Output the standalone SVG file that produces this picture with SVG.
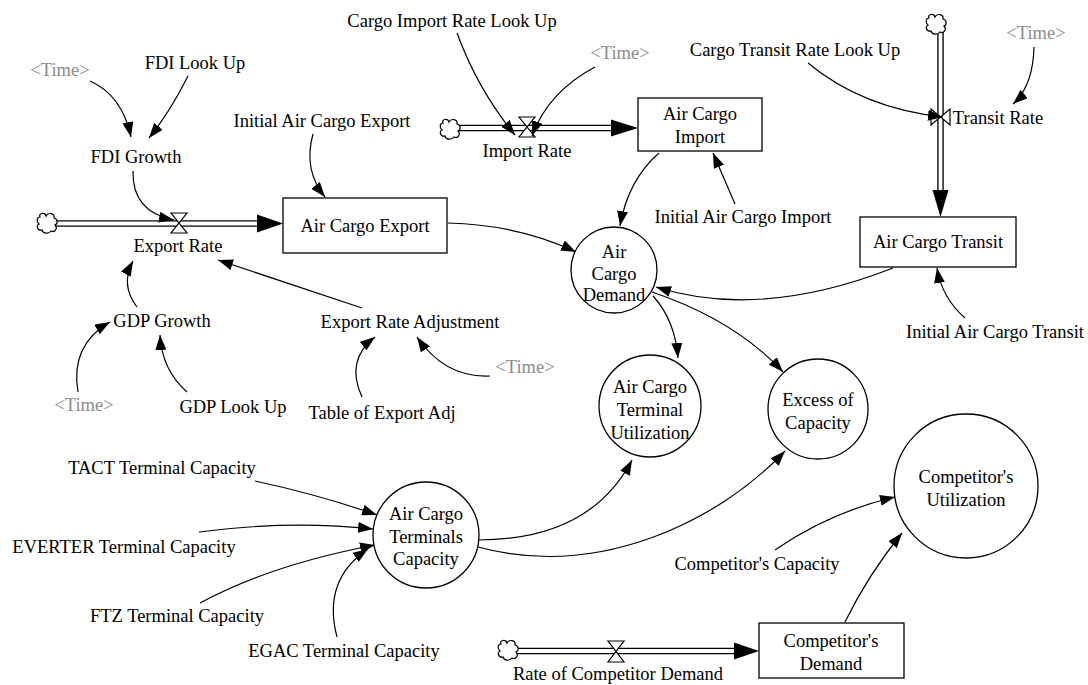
<svg xmlns="http://www.w3.org/2000/svg" width="1088" height="685" viewBox="0 0 1088 685">
<style>
.t{font-family:"Liberation Serif","Times New Roman",serif;font-size:18.5px;fill:#000;text-anchor:middle}
.g{fill:#8c8c8c}
.lk{fill:none;stroke:#000;stroke-width:1.2;marker-end:url(#ah)}
.nd{fill:#fff;stroke:#000;stroke-width:1.3}
.po{stroke:#000;stroke-width:6.5;fill:none}
.pi{stroke:#fff;stroke-width:3.8;fill:none}
.vl{fill:#fff;stroke:#000;stroke-width:1.2}
.fa{fill:#000;stroke:none}
.cl{fill:#fff;stroke:#000;stroke-width:1.2}
</style>
<defs>
<marker id="ah" markerUnits="userSpaceOnUse" markerWidth="15" markerHeight="11" refX="15" refY="5.5" orient="auto">
<path d="M0,0 L15,5.5 L0,11 Z" fill="#000"/>
</marker>
<path id="cloud" d="M-7,-6 C-9,-10 -2,-11 -1,-7 C1,-11 8,-10 7,-5 C11,-4 11,1 8,2 C11,5 8,10 4,8 C2,11 -4,11 -5,7 C-10,8 -11,2 -8,1 C-11,-2 -10,-6 -7,-6 Z"/>
</defs>

<g id="flows">
<!-- export flow -->
<line class="po" x1="55" y1="223.5" x2="260" y2="223.5"/>
<line class="pi" x1="54" y1="223.5" x2="262" y2="223.5"/>
<use href="#cloud" class="cl" x="47" y="223"/>
<polygon class="fa" points="257,214.5 283,223.5 257,232.5"/>
<path class="vl" d="M171,213 H187 L171,233 H187 Z"/>
<!-- import flow -->
<line class="po" x1="458" y1="128" x2="614" y2="128"/>
<line class="pi" x1="457" y1="128" x2="616" y2="128"/>
<use href="#cloud" class="cl" x="450" y="129"/>
<polygon class="fa" points="611,119.5 638,128 611,136.5"/>
<path class="vl" d="M519,117 H535 L519,137 H535 Z"/>
<!-- transit flow -->
<line class="po" x1="940.5" y1="31" x2="940.5" y2="192"/>
<line class="pi" x1="940.5" y1="30" x2="940.5" y2="194"/>
<use href="#cloud" class="cl" x="936" y="24"/>
<polygon class="fa" points="932.5,190 940.5,217 948.5,190"/>
<path class="vl" d="M931,109 V125 L950,109 V125 Z"/>
<!-- competitor flow -->
<line class="po" x1="516" y1="651" x2="737" y2="651"/>
<line class="pi" x1="515" y1="651" x2="739" y2="651"/>
<use href="#cloud" class="cl" x="508" y="650"/>
<polygon class="fa" points="734,642.5 759,651 734,659.5"/>
<path class="vl" d="M608,641 H624 L608,662 H624 Z"/>
</g>

<g id="connectors">
<path class="lk" d="M90,81 Q122,95 131,137"/>
<path class="lk" d="M188,76 Q170,112 149,138"/>
<path class="lk" d="M133,171 Q132,212 174,220"/>
<path class="lk" d="M313,134 Q303,170 325,197"/>
<path class="lk" d="M457,33 Q478,90 515,135"/>
<path class="lk" d="M595,67 Q548,92 532,136"/>
<path class="lk" d="M808,63 Q862,108 943,117"/>
<path class="lk" d="M1034,47 Q1033,86 1013,104"/>
<path class="lk" d="M659,153 Q628,180 620,226"/>
<path class="lk" d="M735,204 L713,153"/>
<path class="lk" d="M448,223 Q520,225 576,252"/>
<path class="lk" d="M893,268 Q760,320 656,287"/>
<path class="lk" d="M965,318 Q942,298 937,268"/>
<path class="lk" d="M652,292 Q735,320 783,372"/>
<path class="lk" d="M653,296 Q675,320 678,358"/>
<path class="lk" d="M478,540 Q590,540 632,460"/>
<path class="lk" d="M478,547 C600,580 720,520 785,451"/>
<path class="lk" d="M255,481 Q320,495 377,515"/>
<path class="lk" d="M199,532 Q290,520 373,529"/>
<path class="lk" d="M200,603 Q270,565 375,545"/>
<path class="lk" d="M337,637 Q322,580 368,549"/>
<path class="lk" d="M775,550 Q830,512 895,497"/>
<path class="lk" d="M845,622 Q868,575 902,533"/>
<path class="lk" d="M137,307 Q120,285 133,261"/>
<path class="lk" d="M78,392 Q70,345 110,322"/>
<path class="lk" d="M187,392 Q162,370 160,335"/>
<path class="lk" d="M362,308 L218,260"/>
<path class="lk" d="M362,397 Q345,360 375,337"/>
<path class="lk" d="M490,376 Q445,378 417,337"/>
</g>

<g id="air-cargo-export"><rect class="nd" x="283" y="198" width="164" height="55"/><text class="t" x="365" y="232">Air Cargo Export</text></g>
<g id="air-cargo-import"><rect class="nd" x="638" y="98" width="124" height="53"/><text class="t" x="700" y="120">Air Cargo</text><text class="t" x="700" y="143">Import</text></g>
<g id="air-cargo-transit"><rect class="nd" x="860" y="217" width="156" height="50"/><text class="t" x="938" y="248">Air Cargo Transit</text></g>
<g id="competitors-demand"><rect class="nd" x="759" y="623" width="145" height="55"/><text class="t" x="831" y="647">Competitor's</text><text class="t" x="831" y="670">Demand</text></g>

<g id="air-cargo-demand"><circle class="nd" cx="614" cy="270" r="43"/><text class="t" x="614" y="258">Air</text><text class="t" x="614" y="280">Cargo</text><text class="t" x="614" y="301">Demand</text></g>
<g id="terminal-utilization"><circle class="nd" cx="650" cy="406" r="51"/><text class="t" x="650" y="393">Air Cargo</text><text class="t" x="650" y="416">Terminal</text><text class="t" x="650" y="439">Utilization</text></g>
<g id="excess-of-capacity"><circle class="nd" cx="818" cy="409" r="50"/><text class="t" x="818" y="406">Excess of</text><text class="t" x="818" y="429">Capacity</text></g>
<g id="terminals-capacity"><circle class="nd" cx="426" cy="535" r="53"/><text class="t" x="426" y="520">Air Cargo</text><text class="t" x="426" y="543">Terminals</text><text class="t" x="426" y="565">Capacity</text></g>
<g id="competitors-utilization"><circle class="nd" cx="966" cy="486" r="72"/><text class="t" x="966" y="483">Competitor's</text><text class="t" x="966" y="506">Utilization</text></g>

<g id="time-1"><text class="t g" x="60" y="76">&lt;Time&gt;</text></g>
<g id="fdi-look-up"><text class="t" x="195" y="69">FDI Look Up</text></g>
<g id="fdi-growth"><text class="t" x="136" y="163">FDI Growth</text></g>
<g id="initial-export"><text class="t" x="322" y="127">Initial Air Cargo Export</text></g>
<g id="cargo-import-lookup"><text class="t" x="452" y="27">Cargo Import Rate Look Up</text></g>
<g id="time-2"><text class="t g" x="620" y="59">&lt;Time&gt;</text></g>
<g id="import-rate"><text class="t" x="527" y="157">Import Rate</text></g>
<g id="cargo-transit-lookup"><text class="t" x="795" y="56">Cargo Transit Rate Look Up</text></g>
<g id="time-3"><text class="t g" x="1036" y="39">&lt;Time&gt;</text></g>
<g id="transit-rate"><text class="t" x="998" y="124">Transit Rate</text></g>
<g id="initial-import"><text class="t" x="743" y="223">Initial Air Cargo Import</text></g>
<g id="export-rate"><text class="t" x="178" y="252">Export Rate</text></g>
<g id="gdp-growth"><text class="t" x="162" y="327">GDP Growth</text></g>
<g id="time-4"><text class="t g" x="84" y="411">&lt;Time&gt;</text></g>
<g id="gdp-look-up"><text class="t" x="233" y="413">GDP Look Up</text></g>
<g id="export-rate-adj"><text class="t" x="410" y="328">Export Rate Adjustment</text></g>
<g id="table-export-adj"><text class="t" x="382" y="419">Table of Export Adj</text></g>
<g id="time-5"><text class="t g" x="525" y="373">&lt;Time&gt;</text></g>
<g id="initial-transit"><text class="t" x="995" y="338">Initial Air Cargo Transit</text></g>
<g id="tact"><text class="t" x="162" y="474">TACT Terminal Capacity</text></g>
<g id="everter"><text class="t" x="124" y="553">EVERTER Terminal Capacity</text></g>
<g id="ftz"><text class="t" x="177" y="622">FTZ Terminal Capacity</text></g>
<g id="egac"><text class="t" x="344" y="657">EGAC Terminal Capacity</text></g>
<g id="competitors-capacity"><text class="t" x="757" y="570">Competitor's Capacity</text></g>
<g id="rate-competitor-demand"><text class="t" x="618" y="680">Rate of Competitor Demand</text></g>
</svg>
